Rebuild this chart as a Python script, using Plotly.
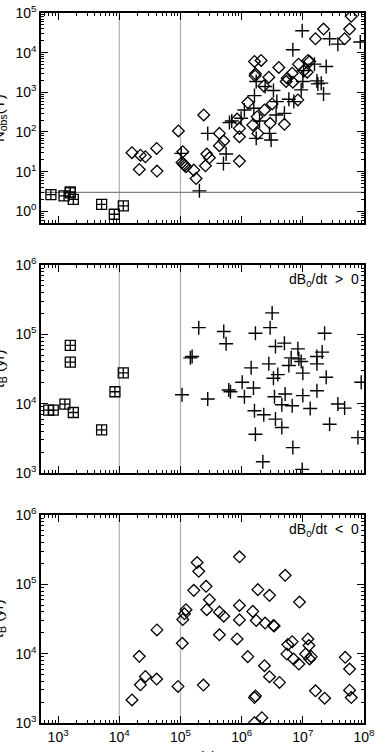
import plotly.graph_objects as go

# --- top panel: N_obs(Y) vs tau ---
top_sq_x = [762, 1250, 1580, 1580, 1770, 5140, 8280, 11620]
top_sq_y = [2.64, 2.44, 3.08, 2.9, 2.0, 1.5, 0.84, 1.36]

top_dia_x = [1.61e4, 2.12e4, 2.21e4, 2.67e4, 4.08e4, 4.13e4, 9.25e4, 1.09e5, 1.06e5, 1.12e5,
             1.17e5, 1.23e5, 1.65e5, 1.80e5, 2.4e5, 2.56e5, 2.69e5, 2.97e5, 4.33e5, 4.33e5,
             5.1e5, 9.2e5, 9.2e5, 9.2e5, 8.43e5, 1.26e6, 1.52e6, 1.62e6, 1.68e6, 1.66e6,
             1.79e6, 1.84e6, 2.08e6, 2.3e6, 2.78e6, 2.92e6, 3.15e6, 2.36e6, 4.05e6, 5.0e6,
             5.34e6, 5.55e6, 6.7e6, 6.87e6, 8.5e6, 8.3e6, 1.04e7, 1.18e7, 1.21e7, 1.29e7,
             1.61e7, 2.18e7, 4.82e7, 5.81e7, 6.19e7]
top_dia_y = [30, 11.3, 26, 23.7, 38.5, 10.3, 106, 31.7, 17, 15.5,
             14.3, 13.2, 10.9, 6.7, 268, 14, 27.7, 22.3, 92, 45,
             59, 18.4, 76, 123, 212, 550, 150, 5990, 2920, 2600,
             243, 92, 6350, 1450, 2400, 165, 509, 359, 4230, 156,
             1870, 2270, 3030, 1800, 5130, 643, 3480, 3220, 6350, 5990,
             22400, 39400, 22400, 39400, 82400]

top_plus_x = [1.03e5, 2.04e5, 2.79e5, 5.04e5, 5.57e5, 6.31e5, 6.89e5, 9.8e5, 1.11e6, 1.62e6,
              1.58e6, 1.73e6, 1.73e6, 1.96e6, 2.42e6, 2.85e6, 3.03e6, 3.31e6, 3.66e6, 3.76e6,
              5.0e6, 5.91e6, 6.87e6, 7.13e6, 9.4e6, 1.0e7, 9.77e6, 1.03e7, 1.55e7, 1.7e7,
              1.76e7, 2.0e7, 2.18e7, 2.41e7, 2.74e7, 3.74e7, 8.69e7]
top_plus_y = [28.8, 3.27, 92, 16.1, 27.7, 172, 189, 221, 359, 827,
              395, 1870, 69, 189, 1400, 92, 62.5, 1110, 268, 583,
              295, 668, 11800, 583, 1150, 1870, 35700, 3550, 5130, 1940,
              1630, 1700, 911, 4480, 22400, 16400, 18500]

# --- middle panel: tau_B, dB0/dt > 0 ---
mid_sq_x = [700, 832, 1290, 1580, 1580, 1770, 5140, 8490, 11600]
mid_sq_y = [8090, 8090, 9890, 69300, 39700, 7480, 4200, 14900, 27800]

mid_plus_x = [1.06e5, 1.45e5, 1.55e5, 1.99e5, 2.79e5, 5.1e5, 5.57e5, 6.15e5, 6.56e5, 1.02e6,
              1.11e6, 1.43e6, 1.56e6, 1.68e6, 1.62e6, 1.68e6, 2.22e6, 2.3e6, 2.78e6, 2.92e6,
              3.15e6, 3.31e6, 3.44e6, 3.57e6, 3.57e6, 3.9e6, 4.54e6, 4.54e6, 5.0e6, 5.14e6,
              5.91e6, 6.45e6, 6.7e6, 6.87e6, 8.3e6, 8.61e6, 9.4e6, 9.77e6, 1.0e7, 1.0e7,
              1.32e7, 1.7e7, 1.7e7, 1.7e7, 2.07e7, 2.27e7, 2.41e7, 2.74e7, 3.74e7, 4.82e7,
              7.96e7, 9.0e7]
mid_plus_y = [13500, 45900, 48000, 1.25e5, 11700, 1.10e5, 73300, 15800, 14900, 20400,
              12600, 32900, 16900, 1.04e5, 7920, 3630, 1460, 6940, 37600, 1.25e5,
              2.04e5, 23300, 12600, 6000, 67000, 26300, 4540, 9680, 74800, 13800,
              35600, 45900, 9350, 2330, 61900, 44400, 40700, 1130, 27600, 13100,
              8550, 15400, 37600, 48000, 55500, 1.04e5, 24100, 5070, 9890, 8650,
              3250, 20400]

# --- bottom panel: tau_B, dB0/dt < 0 ---
bot_dia_x = [1.61e4, 2.12e4, 2.21e4, 2.67e4, 4.08e4, 4.13e4, 9.12e4, 1.07e5, 1.09e5, 1.16e5,
             1.23e5, 1.65e5, 1.87e5, 1.99e5, 2.37e5, 2.62e5, 2.69e5, 2.97e5, 4.33e5, 4.33e5,
             5.1e5, 8.43e5, 9.2e5, 9.2e5, 9.2e5, 1.26e6, 1.52e6, 1.73e6, 1.62e6, 1.68e6,
             1.62e6, 1.84e6, 2.14e6, 2.36e6, 2.42e6, 2.85e6, 2.85e6, 3.31e6, 3.4e6, 4.16e6,
             5.14e6, 5.48e6, 5.69e6, 6.7e6, 7.05e6, 8.61e6, 8.83e6, 1.11e7, 1.21e7, 1.26e7,
             1.29e7, 1.37e7, 1.61e7, 2.27e7, 4.93e7, 5.81e7, 5.81e7, 6.19e7]
bot_dia_y = [2150, 9150, 3560, 4690, 4300, 22000, 3370, 14100, 31100, 37600,
             43000, 81800, 2.06e5, 1.54e5, 3520, 93500, 43000, 60000, 39700, 18700,
             34700, 16300, 49600, 30700, 2.49e5, 9060, 40700, 30100, 2330, 2450,
             1010, 83800, 1190, 6700, 27600, 69300, 4650, 25500, 25000, 3850,
             1.35e5, 9890, 13500, 14900, 8380, 7080, 55500, 9890, 16300, 13100,
             8380, 9060, 2910, 2280, 8850, 6000, 2970, 2330]

# reference lines
vline_x = [1e4, 1e5]
hline_y = 3

# tick labels
x_tickvals = [1e3, 1e4, 1e5, 1e6, 1e7, 1e8]
x_ticktext = ["10<sup>3</sup>", "10<sup>4</sup>", "10<sup>5</sup>", "10<sup>6</sup>", "10<sup>7</sup>", "10<sup>8</sup>"]
top_tickvals = [1, 10, 100, 1e3, 1e4, 1e5]
top_ticktext = ["10<sup>0</sup>", "10<sup>1</sup>", "10<sup>2</sup>", "10<sup>3</sup>", "10<sup>4</sup>", "10<sup>5</sup>"]
tau_tickvals = [1e3, 1e4, 1e5, 1e6]
tau_ticktext = ["10<sup>3</sup>", "10<sup>4</sup>", "10<sup>5</sup>", "10<sup>6</sup>"]

font = "Liberation Sans, Arial, sans-serif"
dia = dict(symbol="diamond-open", size=9, color="black", line=dict(width=1.3, color="black"))
plus = dict(symbol="cross-thin-open", size=10, color="black", line=dict(width=1.4, color="black"))
sq = dict(symbol="square-cross-open", size=10, color="black", line=dict(width=1.3, color="black"))

fig = go.Figure()
fig.add_trace(go.Scatter(x=top_sq_x, y=top_sq_y, mode="markers", marker=sq, xaxis="x", yaxis="y"))
fig.add_trace(go.Scatter(x=top_dia_x, y=top_dia_y, mode="markers", marker=dia, xaxis="x", yaxis="y"))
fig.add_trace(go.Scatter(x=top_plus_x, y=top_plus_y, mode="markers", marker=plus, xaxis="x", yaxis="y"))
fig.add_trace(go.Scatter(x=mid_sq_x, y=mid_sq_y, mode="markers", marker=sq, xaxis="x2", yaxis="y2"))
fig.add_trace(go.Scatter(x=mid_plus_x, y=mid_plus_y, mode="markers", marker=plus, xaxis="x2", yaxis="y2"))
fig.add_trace(go.Scatter(x=bot_dia_x, y=bot_dia_y, mode="markers", marker=dia, xaxis="x3", yaxis="y3"))

axis_common = dict(
    type="log", showgrid=False, zeroline=False, showline=True, linecolor="black", linewidth=1.5,
    mirror="allticks", ticks="inside", ticklen=7, tickwidth=1.2, tickcolor="black", automargin=False,
    tickfont=dict(family=font, size=14, color="black"),
    minor=dict(ticks="inside", ticklen=3.5, tickcolor="black", dtick="D1", showgrid=False),
)

ydoms = {"": [0.704, 1.0], "2": [0.352, 0.645], "3": [0.0, 0.293]}
yranges = {"": [-0.3, 5], "2": [3, 6], "3": [3, 6]}
yticks = {"": (top_tickvals, top_ticktext), "2": (tau_tickvals, tau_ticktext), "3": (tau_tickvals, tau_ticktext)}
ytitles = {"": "N<sub>obs</sub>(Y)", "2": "τ<sub>B</sub> (yr)", "3": "τ<sub>B</sub> (yr)"}

layout = dict(
    width=376, height=752, paper_bgcolor="white", plot_bgcolor="white", showlegend=False,
    margin=dict(l=41, r=12, t=13, b=29), font=dict(family=font, color="black"),
)
for k in ["", "2", "3"]:
    layout["xaxis" + k] = dict(axis_common, domain=[0, 1], range=[2.72, 8], anchor="y" + k,
                               tickvals=x_tickvals, ticktext=x_ticktext,
                               showticklabels=(k == "3"))
    layout["yaxis" + k] = dict(axis_common, domain=ydoms[k], range=yranges[k], anchor="x" + k,
                               tickvals=yticks[k][0], ticktext=yticks[k][1])
fig.update_layout(**layout)

# axis titles sit mostly beyond the page edge, as in the cropped original
for k in ["", "2", "3"]:
    fig.add_annotation(xref="paper", yref="y" + k + " domain", x=0, y=0.5, xshift=-42,
                       xanchor="center", yanchor="middle", textangle=-90, showarrow=False,
                       text=ytitles[k], font=dict(family=font, size=15, color="black"))
fig.add_annotation(xref="paper", yref="paper", x=0.5, y=0, yshift=-33, xanchor="center",
                   yanchor="middle", showarrow=False, text="τ (s)",
                   font=dict(family=font, size=15, color="black"))

shapes = []
for k in ["", "2", "3"]:
    for xv in vline_x:
        shapes.append(dict(type="line", xref="x" + k, yref="y" + k + " domain", x0=xv, x1=xv, y0=0, y1=1,
                           line=dict(color="#b0b0b0", width=1.2), layer="below"))
shapes.append(dict(type="line", xref="x domain", yref="y", x0=0, x1=1, y0=hline_y, y1=hline_y,
                   line=dict(color="#808080", width=1.2), layer="below"))
fig.update_layout(shapes=shapes)

for k, txt in [("2", "dB<sub>0</sub>/dt  >  0"), ("3", "dB<sub>0</sub>/dt  <  0")]:
    fig.add_annotation(xref="x" + k + " domain", yref="y" + k + " domain", x=0.99, y=0.98,
                       xanchor="right", yanchor="top", showarrow=False, text=txt,
                       font=dict(family=font, size=14, color="black"))

# page body has a default 8px margin; remove it so the figure sits at the window origin
fig.write_html("out.html", config={"displayModeBar": False},
               post_script="document.body.style.margin='0';")
